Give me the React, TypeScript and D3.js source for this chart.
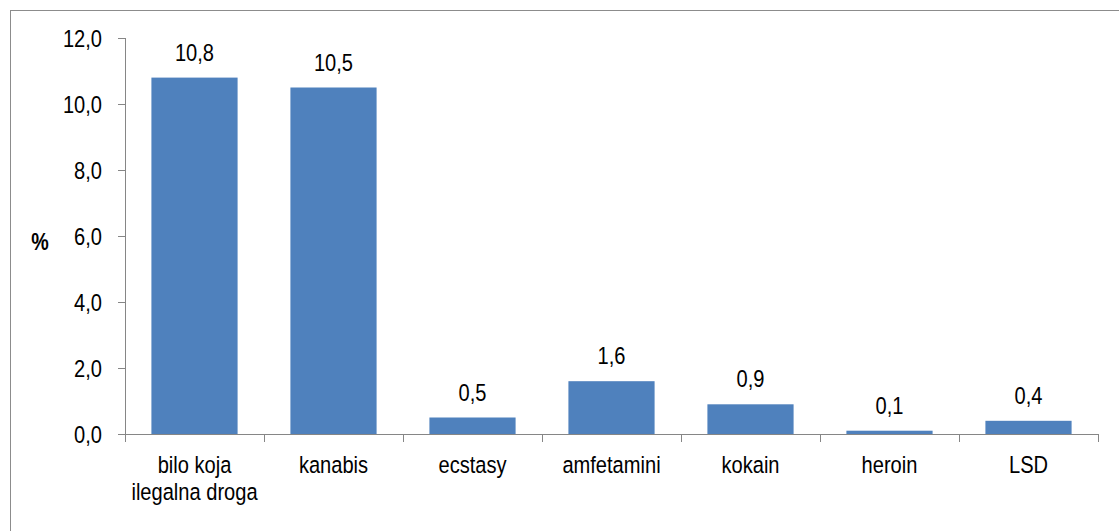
import React from "react";
import * as d3 from "d3";

const categories = ["bilo koja\nilegalna droga", "kanabis", "ecstasy", "amfetamini", "kokain", "heroin", "LSD"];
const values = [10.8, 10.5, 0.5, 1.6, 0.9, 0.1, 0.4];
const yTicks = [0, 2, 4, 6, 8, 10, 12];

const W = 1119;
const H = 531;
const margin = { left: 125, right: 21, top: 38, bottom: 97 };
const FONT = "'Liberation Sans', Arial, sans-serif";
const AXIS = "#868686";
const FS = 24.5;
const SX = 0.82;

// the original font is a narrow sans, so squeeze Liberation Sans horizontally
function Label(props: { x: number; y: number; anchor: string; children: React.ReactNode; bold?: boolean; size?: number }) {
  return (
    <text
      transform={`translate(${props.x},${props.y}) scale(${SX},1)`}
      textAnchor={props.anchor}
      fontFamily={FONT}
      fontSize={props.size ?? FS}
      fontWeight={props.bold ? "bold" : "normal"}
      fill="#000"
    >
      {props.children}
    </text>
  );
}

export default function App() {
  const x = d3
    .scaleBand<string>()
    .domain(categories)
    .range([margin.left, W - margin.right])
    .paddingInner(0.38)
    .paddingOuter(0.19);
  const y = d3.scaleLinear().domain([0, 12]).range([H - margin.bottom, margin.top]);
  const fmt = (v: number) => v.toFixed(1).replace(".", ",");
  const step = x.step();
  const x0 = margin.left;
  const y0 = y(0);

  return (
    <svg width={W} height={H} style={{ position: "absolute", left: 0, top: 0 }}>
      <rect x={0} y={0} width={W} height={H} fill="#fff" />
      <rect x={10.5} y={10.5} width={W + 20} height={H + 20} fill="none" stroke="#8c8c8c" strokeWidth={1} />

      {/* bars */}
      {values.map((v, i) => (
        <rect
          key={i}
          x={x(categories[i])}
          y={y(v)}
          width={x.bandwidth()}
          height={y0 - y(v)}
          fill="#4F81BD"
        />
      ))}

      {/* y axis */}
      <line x1={x0 + 0.5} x2={x0 + 0.5} y1={y(12)} y2={y0} stroke={AXIS} />
      {yTicks.map((t) => (
        <g key={t}>
          <line x1={x0 - 7} x2={x0} y1={Math.round(y(t)) + 0.5} y2={Math.round(y(t)) + 0.5} stroke={AXIS} />
          <Label x={x0 - 23} y={y(t) + 9} anchor="end">
            {fmt(t)}
          </Label>
        </g>
      ))}
      <Label x={40} y={250} anchor="middle" bold size={24}>
        %
      </Label>

      {/* x axis */}
      <line x1={x0 - 7} x2={W - margin.right} y1={Math.round(y0) + 0.5} y2={Math.round(y0) + 0.5} stroke={AXIS} />
      {d3.range(categories.length + 1).map((i) => {
        const xx = Math.round(x0 + i * step) + 0.5;
        return <line key={i} x1={xx} x2={xx} y1={y0} y2={y0 + 8} stroke={AXIS} />;
      })}
      {categories.map((c, i) => {
        const cx = (x(c) ?? 0) + x.bandwidth() / 2;
        return c.split("\n").map((line, j) => (
          <Label key={c + j} x={cx} y={y0 + 39 + j * 27} anchor="middle">
            {line}
          </Label>
        ));
      })}

      {/* value labels */}
      {values.map((v, i) => {
        const cx = (x(categories[i]) ?? 0) + x.bandwidth() / 2;
        return (
          <Label key={i} x={cx} y={y(v) - 17} anchor="middle">
            {fmt(v)}
          </Label>
        );
      })}
    </svg>
  );
}
